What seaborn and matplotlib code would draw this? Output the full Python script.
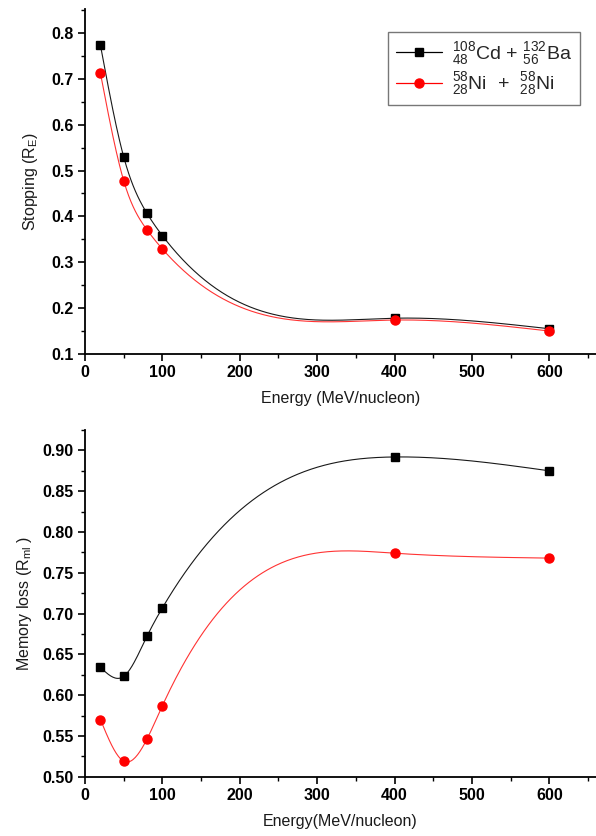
import numpy as np
import pandas as pd
import matplotlib
matplotlib.use("Agg")
import matplotlib.pyplot as plt
import seaborn as sns
from matplotlib.lines import Line2D

sns.set_theme(style="ticks")
plt.rcParams['font.family'] = ['Liberation Sans', 'DejaVu Sans']
plt.rcParams['mathtext.fontset'] = 'custom'
plt.rcParams['mathtext.rm'] = 'Liberation Sans'
plt.rcParams['mathtext.it'] = 'Liberation Sans'

energy = [20, 50, 80, 100, 400, 600]
stop_cdba = [0.773, 0.530, 0.407, 0.358, 0.178, 0.155]
stop_nini = [0.712, 0.478, 0.371, 0.329, 0.174, 0.150]
mem_cdba = [0.634, 0.623, 0.672, 0.707, 0.892, 0.875]
mem_nini = [0.570, 0.519, 0.546, 0.587, 0.774, 0.768]

label_cdba = r"${}^{108}_{48}$Cd + ${}^{132}_{56}$Ba"
label_nini = r"${}^{58}_{28}$Ni  +  ${}^{58}_{28}$Ni"


def natural_spline(x, y, n=400):
    x = np.asarray(x, float)
    y = np.asarray(y, float)
    m = len(x)
    h = np.diff(x)
    A = np.zeros((m, m))
    b = np.zeros(m)
    A[0, 0] = 1
    A[-1, -1] = 1
    for i in range(1, m - 1):
        A[i, i - 1] = h[i - 1]
        A[i, i] = 2 * (h[i - 1] + h[i])
        A[i, i + 1] = h[i]
        b[i] = 6 * ((y[i + 1] - y[i]) / h[i] - (y[i] - y[i - 1]) / h[i - 1])
    M = np.linalg.solve(A, b)
    xs = np.linspace(x[0], x[-1], n)
    ys = np.empty_like(xs)
    for k, xv in enumerate(xs):
        i = min(np.searchsorted(x, xv, side='right') - 1, m - 2)
        t1 = x[i + 1] - xv
        t0 = xv - x[i]
        ys[k] = (M[i] * t1 ** 3 / (6 * h[i]) + M[i + 1] * t0 ** 3 / (6 * h[i])
                 + (y[i] / h[i] - M[i] * h[i] / 6) * t1
                 + (y[i + 1] / h[i] - M[i + 1] * h[i] / 6) * t0)
    return xs, ys


fig = plt.figure(figsize=(5.96, 8.36), dpi=100)
ax1 = fig.add_axes([0.1426, 0.5766, 0.857, 0.4124])
ax2 = fig.add_axes([0.1426, 0.0709, 0.857, 0.4147])

series = [
    (ax1, stop_cdba, 'black', 's', 6),
    (ax1, stop_nini, 'red', 'o', 6.5),
    (ax2, mem_cdba, 'black', 's', 6),
    (ax2, mem_nini, 'red', 'o', 6.5),
]
for ax, vals, col, mk, ms in series:
    xs, ys = natural_spline(energy, vals)
    sns.lineplot(x=xs, y=ys, ax=ax, color=col, lw=0.8, alpha=0.9 if col == 'black' else 0.8,
                 legend=False, estimator=None, sort=False)
    df = pd.DataFrame({'E': energy, 'v': vals})
    ax.plot(df['E'], df['v'], linestyle='none', marker=mk, color=col, ms=ms, mec=col)

h1 = Line2D([], [], color='black', lw=0.9, marker='s', ms=6)
h2 = Line2D([], [], color='red', lw=0.9, marker='o', ms=6.5)
leg = ax1.legend([h1, h2], [label_cdba, label_nini], loc='upper right',
                 bbox_to_anchor=(0.988, 0.962), fontsize=14, frameon=True,
                 fancybox=False, edgecolor='#555555', handlelength=2.4,
                 borderpad=0.4, labelspacing=0.2, handletextpad=0.5)
leg.get_frame().set_linewidth(1.0)

for ax in (ax1, ax2):
    sns.despine(ax=ax)
    ax.set_xlim(0, 660)
    ax.set_xticks([0, 100, 200, 300, 400, 500, 600])
    ax.set_xticks(np.arange(50, 660, 100), minor=True)
    for s in ('left', 'bottom'):
        ax.spines[s].set_linewidth(1.3)
        ax.spines[s].set_color('black')
    ax.tick_params(which='major', direction='out', length=5, width=1.2, labelsize=11.5,
                   colors='black', pad=3)
    ax.tick_params(which='minor', direction='out', length=3, width=1.0, colors='black')

ax1.set_ylim(0.1, 0.852)
ax1.set_yticks(np.arange(0.1, 0.81, 0.1))
ax1.set_yticks(np.arange(0.15, 0.86, 0.1), minor=True)
ax1.set_yticklabels([f"{v:.1f}" for v in np.arange(0.1, 0.81, 0.1)], fontweight='bold')
ax1.set_xlabel("Energy (MeV/nucleon)", fontsize=11.5, color='#1a1a1a', labelpad=8)
ax1.set_ylabel(r"Stopping (R$_E$)", fontsize=11.5, color='#1a1a1a', labelpad=8)

ax2.set_ylim(0.5, 0.925)
ax2.set_yticks(np.arange(0.5, 0.91, 0.05))
ax2.set_yticks(np.arange(0.525, 0.93, 0.05), minor=True)
ax2.set_yticklabels([f"{v:.2f}" for v in np.arange(0.5, 0.91, 0.05)], fontweight='bold')
ax2.set_xlabel("Energy(MeV/nucleon)", fontsize=11.5, color='#1a1a1a', labelpad=8)
ax2.set_ylabel(r"Memory loss (R$_{ml}$ )", fontsize=11.5, color='#1a1a1a', labelpad=6)

for ax in (ax1, ax2):
    for lbl in ax.get_xticklabels():
        lbl.set_fontweight('bold')

fig.savefig("out.png", dpi=100)
